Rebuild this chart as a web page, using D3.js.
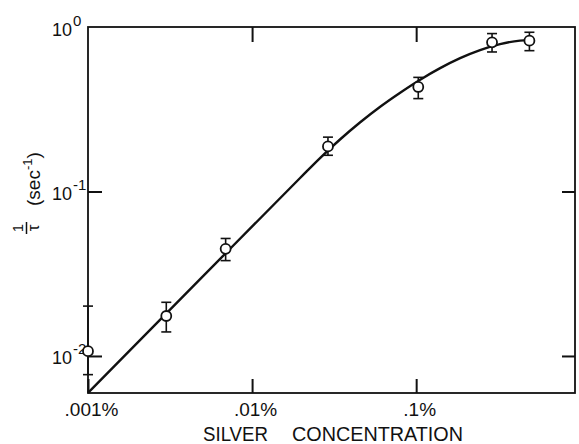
<!DOCTYPE html>
<html>
<head>
<meta charset="utf-8">
<script src="https://cdn.jsdelivr.net/npm/d3@7"></script>
<style>
  html, body { margin: 0; padding: 0; background: #fff; }
  svg { display: block; }
  text { font-family: "Liberation Sans", Arial, sans-serif; fill: #111; }
</style>
</head>
<body>
<div id="chart"></div>
<script>
// measured points (silver concentration in %, 1/tau in sec^-1)
const concentration = [0.001, 0.003, 0.0069, 0.029, 0.103, 0.29, 0.49];
const rate = [0.0107, 0.0175, 0.0448, 0.188, 0.432, 0.807, 0.826];
const rateLow = [0.0077, 0.014, 0.038, 0.166, 0.367, 0.705, 0.718];
const rateHigh = [0.0201, 0.0212, 0.0518, 0.214, 0.494, 0.912, 0.929];

// hand drawn fitted curve
const curveX = [0.001, 0.00484, 0.01968, 0.02604, 0.03447, 0.04561, 0.06037, 0.0799,
  0.1058, 0.14, 0.1853, 0.2452, 0.3245, 0.4295, 0.4875];
const curveY = [0.00596, 0.0294, 0.1212, 0.1603, 0.2078, 0.2637, 0.3277, 0.3988,
  0.4784, 0.5622, 0.6465, 0.7236, 0.787, 0.8263, 0.8322];

const xTicks = [0.001, 0.01, 0.1];
const xTickLabels = [".001%", ".01%", ".1%"];
const yTicks = [1, 0.1, 0.01];
const yExponents = ["0", "-1", "-2"];

const width = 579;
const height = 444;
const margin = { top: 27, right: 4, bottom: 51, left: 88 };

const svg = d3.select("#chart").append("svg")
  .attr("width", width)
  .attr("height", height);

const x = d3.scaleLog()
  .domain([0.001, 0.929])
  .range([margin.left, width - margin.right]);
const y = d3.scaleLog()
  .domain([0.005955, 1])
  .range([height - margin.bottom, margin.top]);

const ink = "#111";

// frame
svg.append("rect")
  .attr("x", x.range()[0])
  .attr("y", y.range()[1])
  .attr("width", x.range()[1] - x.range()[0])
  .attr("height", y.range()[0] - y.range()[1])
  .attr("fill", "none")
  .attr("stroke", ink)
  .attr("stroke-width", 1.8);

function styleAxis(g) {
  g.select(".domain").remove();
  g.selectAll(".tick line").attr("stroke", ink).attr("stroke-width", 2);
}

// bottom axis with labels
const gx = svg.append("g")
  .attr("transform", `translate(0,${y.range()[0]})`)
  .call(d3.axisBottom(x)
    .tickValues(xTicks)
    .tickSizeInner(-14)
    .tickSizeOuter(0)
    .tickPadding(10)
    .tickFormat((d, i) => xTickLabels[i]))
  .call(styleAxis);
gx.selectAll(".tick text")
  .attr("font-size", 19)
  .attr("font-family", "Liberation Sans, Arial, sans-serif")
  .attr("fill", ink)
  .attr("dx", 3);

// top axis ticks
svg.append("g")
  .attr("transform", `translate(0,${y.range()[1]})`)
  .call(d3.axisTop(x).tickValues([0.01, 0.1]).tickSizeInner(-15).tickSizeOuter(0).tickFormat(""))
  .call(styleAxis);

// right axis ticks
svg.append("g")
  .attr("transform", `translate(${x.range()[1]},0)`)
  .call(d3.axisRight(y).tickValues([0.1, 0.01]).tickSizeInner(-13).tickSizeOuter(0).tickFormat(""))
  .call(styleAxis);

// left axis, powers of ten
const gy = svg.append("g")
  .attr("transform", `translate(${x.range()[0]},0)`)
  .call(d3.axisLeft(y).tickValues(yTicks).tickSizeInner(-14).tickSizeOuter(0).tickFormat(""))
  .call(styleAxis);
gy.selectAll(".tick line").filter(d => d === 1).remove();
gy.selectAll(".tick").each(function (d, i) {
  const t = d3.select(this);
  t.append("text")
    .attr("x", -16)
    .attr("y", 8)
    .attr("text-anchor", "end")
    .attr("font-size", 18)
    .attr("fill", ink)
    .text("10");
  t.append("text")
    .attr("x", -15)
    .attr("y", -2)
    .attr("text-anchor", "start")
    .attr("font-size", 15)
    .attr("fill", ink)
    .text(yExponents[i]);
});

// y axis title: 1/tau (sec^-1)
const yl = svg.append("g").attr("transform", "translate(0,228) rotate(-90)");
yl.append("text")
  .attr("x", 0).attr("y", 23)
  .attr("text-anchor", "middle")
  .attr("font-size", 15)
  .text("1");
yl.append("line")
  .attr("x1", -6).attr("x2", 6)
  .attr("y1", 26.5).attr("y2", 26.5)
  .attr("stroke", ink).attr("stroke-width", 1.5);
yl.append("text")
  .attr("x", 0).attr("y", 39)
  .attr("text-anchor", "middle")
  .attr("font-family", "DejaVu Sans, sans-serif")
  .attr("font-size", 17)
  .text("τ");
const sec = yl.append("text")
  .attr("x", 22).attr("y", 40)
  .attr("font-size", 19);
sec.append("tspan").text("(sec");
sec.append("tspan").attr("dy", -8).attr("font-size", 13).text("-1");
sec.append("tspan").attr("dy", 8).text(")");

// x axis title
svg.append("text")
  .attr("x", 203).attr("y", 441)
  .attr("font-size", 20)
  .attr("textLength", 65)
  .attr("lengthAdjust", "spacingAndGlyphs")
  .text("SILVER");
svg.append("text")
  .attr("x", 292).attr("y", 441)
  .attr("font-size", 20)
  .attr("textLength", 171)
  .attr("lengthAdjust", "spacingAndGlyphs")
  .text("CONCENTRATION");

// fitted curve
const line = d3.line()
  .x(d => x(d[0]))
  .y(d => y(d[1]))
  .curve(d3.curveMonotoneX);
svg.append("path")
  .datum(d3.zip(curveX, curveY))
  .attr("d", line)
  .attr("fill", "none")
  .attr("stroke", ink)
  .attr("stroke-width", 2.4);

// error bars and points
const pts = concentration.map((c, i) => ({ c, r: rate[i], lo: rateLow[i], hi: rateHigh[i] }));
const cap = 5;
const eb = svg.append("g").attr("stroke", ink).attr("stroke-width", 1.6);
eb.selectAll("line.v").data(pts).join("line").attr("class", "v")
  .attr("x1", d => x(d.c)).attr("x2", d => x(d.c))
  .attr("y1", d => y(d.lo)).attr("y2", d => y(d.hi));
eb.selectAll("line.top").data(pts).join("line").attr("class", "top")
  .attr("x1", d => x(d.c) - cap).attr("x2", d => x(d.c) + cap)
  .attr("y1", d => y(d.hi)).attr("y2", d => y(d.hi));
eb.selectAll("line.bot").data(pts).join("line").attr("class", "bot")
  .attr("x1", d => x(d.c) - cap).attr("x2", d => x(d.c) + cap)
  .attr("y1", d => y(d.lo)).attr("y2", d => y(d.lo));

svg.append("g").selectAll("circle").data(pts).join("circle")
  .attr("cx", d => x(d.c))
  .attr("cy", d => y(d.r))
  .attr("r", 5)
  .attr("fill", "#fff")
  .attr("stroke", ink)
  .attr("stroke-width", 1.8);
</script>
</body>
</html>
